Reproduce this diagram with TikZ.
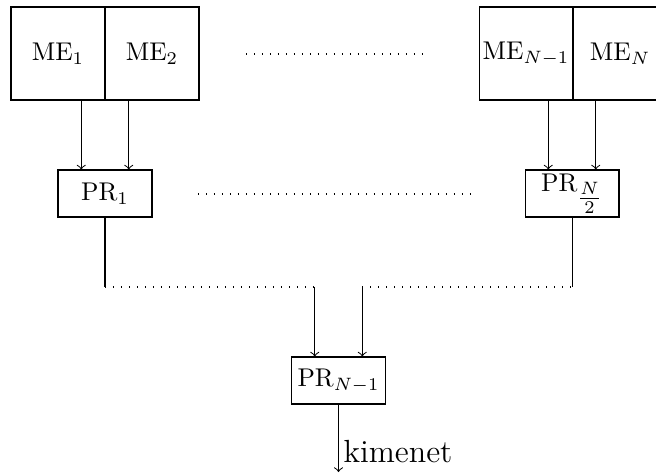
\documentclass[tikz,border=0pt]{standalone}
\usepackage{amsmath}
\usetikzlibrary{calc}
\begin{document}
\begin{tikzpicture}[x=0.39024pt,y=-0.39024pt,
  mebox/.style={draw,rectangle,minimum width=36.68pt,minimum height=36.29pt,inner sep=0.5pt},
  prbox/.style={draw,rectangle,minimum width=36.68pt,minimum height=18.34pt,inner sep=0.5pt},
  dotline/.style={dash pattern=on 0.4pt off 2.72pt},
  arr/.style={->}]
\clip (0,0) rectangle (656,475);
\useasboundingbox (0,0) rectangle (656,475);
% top row
\node[mebox] (me1) at (58,53.5) {ME$_1$};
\node[mebox] (me2) at (152,53.5) {ME$_2$};
\node[mebox] (me3) at (526,53.5) {ME$_{N-1}$};
\node[mebox] (me4) at (620,53.5) {ME$_N$};
% middle row
\node[prbox] (pr1) at (105,193.5) {PR$_1$};
\node[prbox] (pr2) at (572,193.5) {PR$_{\genfrac{}{}{}{1}{N}{2}}$};
% bottom
\node[prbox] (pr3) at (338.5,380.5) {PR$_{N-1}$};
% dotted separators
\coordinate (t1) at (246,54);
\coordinate (t2) at (427,54);
\draw[dotline] (t1) -- (t2);
\coordinate (m1) at (198,194);
\coordinate (m2) at (476,194);
\draw[dotline] (m1) -- (m2);
% arrows ME -> PR
\coordinate (a1) at ($(pr1.north west)!0.25!(pr1.north east)$);
\coordinate (a2) at ($(pr1.north west)!0.75!(pr1.north east)$);
\coordinate (a3) at ($(pr2.north west)!0.25!(pr2.north east)$);
\coordinate (a4) at ($(pr2.north west)!0.75!(pr2.north east)$);
\draw[arr] (me1.south -| a1) -- (a1);
\draw[arr] (me2.south -| a2) -- (a2);
\draw[arr] (me3.south -| a3) -- (a3);
\draw[arr] (me3.south -| a4) -- (a4);
% collection level
\coordinate (h) at (0,287);
\coordinate (b1) at ($(pr3.north west)!0.25!(pr3.north east)$);
\coordinate (b2) at ($(pr3.north west)!0.75!(pr3.north east)$);
\draw (pr1.south) -- (pr1.south |- h);
\draw[dotline] (pr1.south |- h) -- (b1 |- h);
\draw[arr] (b1 |- h) -- (b1);
\draw (pr2.south) -- (pr2.south |- h);
\draw[dotline] (b2 |- h) -- (pr2.south |- h);
\draw[arr] (b2 |- h) -- (b2);
% output
\coordinate (out) at (338.5,472);
\draw[arr] (pr3.south) -- (pr3.south |- out);
\node[anchor=base west,inner sep=0pt,font=\fontsize{12.5}{15}\selectfont] (lbl) at (343,462) {kimenet};
\end{tikzpicture}
\end{document}
